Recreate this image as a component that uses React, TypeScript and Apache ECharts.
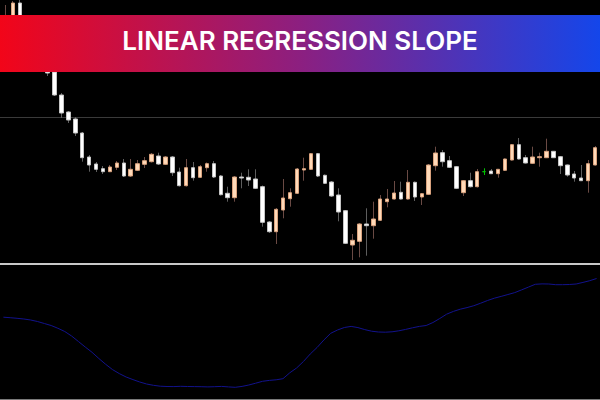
import React, { useEffect, useRef } from "react";
import * as echarts from "echarts";

// Bars (1..86), values in chart price units
const categories: string[] = Array.from({ length: 86 }, (_, i) => String(i + 1));
// Indicator pane also shows the partly visible bar before and after the window
const slopeBars: string[] = Array.from({ length: 88 }, (_, i) => String(i));

const opens: number[] = [
  370, 372, 397, 376, 362, 370, 348, 328, 305, 288, 281, 267, 243, 236, 231.3, 228.3, 232.7, 237, 224, 229.7,
  235.7, 238.3, 244, 235.7, 243, 228, 214.3, 232.3, 222.7, 232.3, 236.3, 224, 206.7, 202.3, 223, 222.7, 221, 213.3, 178, 168.3,
  190, 201.3, 206.7, 230, 230.7, 246.3, 224.7, 218, 205, 189.3, 155, 158.7, 176, 174.3, 179.7, 198.3, 201, 207.7, 201, 217.7,
  203, 205.7, 234.3, 247.3, 239.3, 233.3, 207.3, 219.3, 213.3, 228.3, 229, 226.3, 229.7, 240, 255.3, 242.3, 236.7, 242.3, 242.3, 248.7,
  243.3, 235, 226, 222, 219.3, 235,
];
const closes: number[] = [
  382, 397, 376, 362, 370, 348, 327, 305, 287, 280, 267, 242.3, 235, 230.7, 228.3, 233, 237, 224, 230.7, 236.3,
  239.3, 245.7, 236, 243, 227.3, 214.3, 232.3, 222.3, 233.3, 236.3, 223, 205.3, 202.3, 223, 222, 220, 211.7, 177.7, 168.3, 190.7,
  202, 207.3, 231, 231.3, 246.3, 224, 216.7, 204, 188, 156.7, 159.7, 176, 174.3, 181, 201, 201, 207, 201, 217.7, 203,
  206.3, 235, 247, 238.3, 232.7, 211.7, 219.3, 213.3, 228.3, 228.3, 226.3, 230.7, 241, 255.3, 241, 237, 243, 243.3, 248.7, 242.3,
  234.3, 225, 222, 219.3, 236.3, 252.3,
];
const lows: number[] = [
  366, 368, 372, 358, 359, 345, 324, 304, 282, 277, 264, 238.3, 228.3, 228, 226, 228, 230, 223, 223, 229,
  232, 237.5, 235, 235, 224, 213.5, 213.5, 219.3, 222, 228.3, 222, 204.5, 198.3, 198.3, 211.7, 214, 211, 173.3, 167, 156,
  181.7, 193.3, 206, 219.3, 230, 223, 216, 203, 178.7, 156, 140, 142.7, 144.3, 161.3, 179, 192.7, 200.5, 200.5, 200.5, 199,
  195, 205, 229.3, 233.3, 232, 211, 204, 212.5, 212.5, 225, 226, 222.3, 229, 239.5, 240.5, 236.5, 236.2, 233.3, 242, 242,
  226, 223.3, 218.3, 219, 207.3, 234.5,
];
const highs: number[] = [
  395, 399, 400, 380, 373, 372, 350, 332, 307, 289, 283, 268, 245, 238, 234, 235, 239, 241, 241, 240,
  243, 247, 247.3, 244, 244, 232.3, 241, 238, 235, 237.5, 239, 225, 213.3, 224, 227.3, 230.7, 230.7, 214.5, 179, 192,
  221, 211.7, 232, 242.3, 247, 247, 225.5, 219, 211.7, 190, 166, 177, 191.7, 198.3, 205, 211, 219, 218.3, 230, 218.5,
  207, 236, 253.3, 250, 244, 234, 220, 227.3, 231, 231.7, 231, 231, 241.5, 256, 262, 245, 253.3, 247.3, 261.3, 249,
  244, 235.5, 229, 235, 240, 254,
];

// Linear regression slope (indicator pane units), bars 0..87
const slopeValues: number[] = [
  82.8,
  82.3, 81.7, 81, 80, 78.5, 76.5, 74.5, 71.7, 68.5, 64, 58.5, 53, 47.7, 41.5, 35.7, 30.4, 26.4, 23, 20.4, 18,
  16, 14.7, 13.8, 13.5, 13.4, 13.7, 13.5, 13.4, 13.3, 13.1, 13.3, 13.6, 13.1, 12.7, 13.6, 15, 16.8, 18.7, 19.6, 20.2,
  21.3, 27.2, 32, 38.5, 46, 52.5, 60, 66.7, 70, 72.5, 73.6, 72.4, 70.4, 68.8, 68, 67.8, 68.2, 69.2, 70.6, 72.2,
  73.6, 74.5, 77.5, 81.5, 85.8, 88.6, 90.8, 92.4, 94.3, 96.8, 99.5, 101.8, 103.6, 105.5, 107.4, 110.1, 112.9, 115.7, 116.1, 116,
  115.3, 115.3, 115.5, 116, 117.6, 119.3,
  121.5,
];

const levelLine = 283;
const markedBar = 69; // index of the highlighted doji bar
const title = "LINEAR REGRESSION SLOPE";

export default function App() {
  const ref = useRef<HTMLDivElement>(null);

  useEffect(() => {
    if (!ref.current) return;
    const chart = echarts.init(ref.current, null, { renderer: "svg" });

    const bodyData = categories.map((_, i) => {
      const o = opens[i];
      const c = closes[i];
      const item: any = { value: [o, c, Math.min(o, c), Math.max(o, c)] };
      if (i === markedBar) {
        item.itemStyle = { color: "#00c000", color0: "#00c000", borderColor: "#00c000", borderColor0: "#00c000", borderColorDoji: "#00c000" };
      }
      return item;
    });
    const wickData = categories.map((_, i) => [i, lows[i], highs[i], closes[i] >= opens[i] ? 1 : 0]);

    const band = 596 / categories.length;

    chart.setOption({
      animation: false,
      backgroundColor: "#000000",
      grid: [
        { left: 2.5, right: 1.5, top: 0, bottom: 0 },
        { left: 2.5 - band, right: 1.5 - band, top: 265, bottom: 2 },
      ],
      xAxis: [
        { type: "category", data: categories, gridIndex: 0, boundaryGap: true, show: false },
        { type: "category", data: slopeBars, gridIndex: 1, boundaryGap: true, show: false },
      ],
      yAxis: [
        { type: "value", gridIndex: 0, min: 0, max: 400, show: false, splitLine: { show: false } },
        { type: "value", gridIndex: 1, min: 2, max: 135, show: false, splitLine: { show: false } },
      ],
      series: [
        {
          type: "custom",
          name: "wicks",
          xAxisIndex: 0,
          yAxisIndex: 0,
          z: 1,
          data: wickData,
          encode: { x: 0, y: [1, 2] },
          renderItem: (params: any, api: any) => {
            const idx = api.value(0);
            const lo = api.coord([idx, api.value(1)]);
            const hi = api.coord([idx, api.value(2)]);
            const x = Math.round(lo[0] - 0.5) + 0.5;
            const up = api.value(3) === 1;
            const stroke = params.dataIndex === markedBar ? "#00c000" : up ? "#6a4a44" : "#5e5e5e";
            return {
              type: "line",
              shape: { x1: x, y1: lo[1], x2: x, y2: hi[1] },
              style: { stroke, lineWidth: 1 },
            };
          },
        },
        {
          type: "candlestick",
          name: "price",
          xAxisIndex: 0,
          yAxisIndex: 0,
          z: 2,
          barWidth: 4,
          data: bodyData,
          itemStyle: {
            color: "#FFDAB9",
            color0: "#FFFFFF",
            borderColor: "#D9A27E",
            borderColor0: "#C4C4C4",
            borderColorDoji: "#D9A27E",
            borderWidth: 1,
          },
        },
        {
          type: "line",
          name: "slope",
          xAxisIndex: 1,
          yAxisIndex: 1,
          data: slopeValues,
          symbol: "none",
          clip: true,
          lineStyle: { color: "#12128c", width: 1 },
        },
      ],
      graphic: [
        {
          type: "line",
          z: 0,
          shape: { x1: 0, y1: 400 - levelLine + 0.5, x2: 600, y2: 400 - levelLine + 0.5 },
          style: { stroke: "#3a3a3a", lineWidth: 1 },
        },
        {
          type: "line",
          z: 50,
          shape: { x1: 0, y1: 264, x2: 600, y2: 264 },
          style: { stroke: "#c8c8c8", lineWidth: 2 },
        },
        {
          type: "line",
          z: 50,
          shape: { x1: 0, y1: 399.5, x2: 600, y2: 399.5 },
          style: { stroke: "#7a7a7a", lineWidth: 1 },
        },
        {
          type: "rect",
          z: 100,
          shape: { x: 0, y: 15, width: 600, height: 57 },
          style: {
            fill: new echarts.graphic.LinearGradient(0, 0, 1, 0, [
              { offset: 0, color: "#F20519" },
              { offset: 0.5, color: "#8C1F80" },
              { offset: 1, color: "#1446EA" },
            ]),
          },
        },
        {
          type: "text",
          z: 101,
          x: 300,
          y: 40,
          style: {
            text: title,
            fill: "#ffffff",
            font: "600 26px Inter",
            textAlign: "center",
            textVerticalAlign: "middle",
          },
        },
      ],
    });

    return () => chart.dispose();
  }, []);

  return (
    <div
      ref={ref}
      style={{ position: "fixed", left: 0, top: 0, width: 600, height: 400, background: "#000" }}
    />
  );
}
